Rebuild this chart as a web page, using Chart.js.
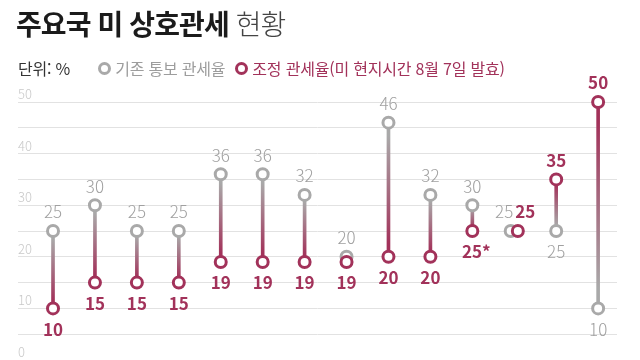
<!DOCTYPE html>
<html lang="ko">
<head>
<meta charset="utf-8">
<script src="https://cdn.jsdelivr.net/npm/chart.js@4"></script>
<style>
  body { margin: 0; background: #fff; font-family: "Noto Sans CJK KR", "Noto Sans", sans-serif; }
  .wrap { position: relative; width: 640px; height: 360px; overflow: hidden; }
  canvas { position: absolute; left: 0; top: 0; }
  .title { position: absolute; left: 16px; top: 3px; font-size: 28px; font-weight: 700; color: #1b1b1b; letter-spacing: -0.9px; white-space: nowrap; }
  .title span { font-weight: 300; color: #444; }
  .legend { position: absolute; left: 18px; top: 56px; font-size: 16px; color: #333; display: flex; align-items: center; letter-spacing: -0.2px; white-space: nowrap; }
  .legend .ring { display: inline-block; width: 7px; height: 7px; border-radius: 50%; border: 3px solid; margin-right: 4px; }
  .legend .old { color: #9d9d9d; margin-left: 28px; }
  .legend .old .ring { border-color: #a9a9a9; }
  .legend .new { color: #a2325a; margin-left: 10px; }
  .legend .new .ring { border-color: #a2325a; }
</style>
</head>
<body>
<div class="wrap">
  <canvas id="tariffChart" width="640" height="360"></canvas>
  <div class="title">주요국 미 상호관세 <span>현황</span></div>
  <div class="legend">
    <span>단위: %</span>
    <span class="old"><span class="ring"></span>기존 통보 관세율</span>
    <span class="new"><span class="ring"></span>조정 관세율(미 현지시간 8월 7일 발효)</span>
  </div>
</div>
<script>
// country slots, left to right (names are not shown in the graphic)
const categories = [1, 2, 3, 4, 5, 6, 7, 8, 9, 10, 11, 12, 13, 14];
const oldRates = [25, 30, 25, 25, 36, 36, 32, 20, 46, 32, 30, 25, 25, 10];
const newRates = [10, 15, 15, 15, 19, 19, 19, 19, 20, 20, 25, 25, 35, 50];
const newNotes = ['', '', '', '', '', '', '', '', '', '', '*', '', '', ''];
const yTicks = [0, 10, 20, 30, 40, 50];

const GRAY = '#a9a9a9';
const RED = '#a2325a';
const FONT = '"Noto Sans CJK KR", "Noto Sans", sans-serif';

// equal values sit side by side
const nudge = (i) => (oldRates[i] === newRates[i] ? 0.085 : 0);

// y tick labels sit above their grid line, at the left edge
const yLabels = {
    id: 'yLabels',
    beforeDatasetsDraw(chart) {
        const ctx = chart.ctx;
        const y = chart.scales.y;
        ctx.save();
        ctx.font = '300 13px ' + FONT;
        ctx.fillStyle = '#c9c9c9';
        ctx.textAlign = 'left';
        ctx.textBaseline = 'middle';
        yTicks.forEach((t) => ctx.fillText(String(t), chart.chartArea.left, y.getPixelForValue(t) - 8));
        ctx.restore();
    }
};

const valueLabels = {
    id: 'valueLabels',
    afterDatasetsDraw(chart) {
        const ctx = chart.ctx;
        const oldMeta = chart.getDatasetMeta(1);
        const newMeta = chart.getDatasetMeta(2);
        ctx.save();
        ctx.textBaseline = 'middle';
        categories.forEach((c, i) => {
            const o = oldMeta.data[i];
            const n = newMeta.data[i];
            const oldTxt = String(oldRates[i]);
            const newTxt = newRates[i] + newNotes[i];
            ctx.font = '300 17px ' + FONT;
            ctx.fillStyle = '#a0a0a0';
            if (oldRates[i] === newRates[i]) {
                const mid = (o.x + n.x) / 2;
                ctx.textAlign = 'right';
                ctx.fillText(oldTxt, mid - 1, o.y - 19);
                ctx.font = '700 17px ' + FONT;
                ctx.fillStyle = RED;
                ctx.textAlign = 'left';
                ctx.fillText(newTxt, mid + 1, n.y - 19);
                return;
            }
            const oldUp = oldRates[i] > newRates[i];
            ctx.textAlign = 'center';
            ctx.fillText(oldTxt, o.x, oldUp ? o.y - 19 : o.y + 21);
            ctx.font = '700 17px ' + FONT;
            ctx.fillStyle = RED;
            ctx.fillText(newTxt, n.x + (newNotes[i] ? 4 : 0), oldUp ? n.y + 21 : n.y - 19);
        });
        ctx.restore();
    }
};

const canvas = document.getElementById('tariffChart');
new Chart(canvas.getContext('2d'), {
    type: 'bar',
    data: {
        datasets: [
            {
                // connector between the two rates
                type: 'bar',
                order: 3,
                data: categories.map((c, i) => ({ x: c, y: [oldRates[i], newRates[i]] })),
                barThickness: 3,
                backgroundColor: (context) => {
                    const chart = context.chart;
                    const i = context.dataIndex;
                    if (!chart.chartArea || i === undefined) return GRAY;
                    const y = chart.scales.y;
                    const g = chart.ctx.createLinearGradient(0, y.getPixelForValue(oldRates[i]), 0, y.getPixelForValue(newRates[i]) + 0.01);
                    g.addColorStop(0.1, GRAY);
                    g.addColorStop(0.9, RED);
                    return g;
                },
            },
            {
                type: 'line',
                order: 2,
                showLine: false,
                clip: false,
                data: categories.map((c, i) => ({ x: c - nudge(i), y: oldRates[i] })),
                pointRadius: 5.5,
                pointBorderWidth: 3,
                pointBorderColor: GRAY,
                pointBackgroundColor: '#fff',
            },
            {
                type: 'line',
                order: 1,
                showLine: false,
                clip: false,
                data: categories.map((c, i) => ({ x: c + nudge(i), y: newRates[i] })),
                pointRadius: 5.5,
                pointBorderWidth: 3,
                pointBorderColor: RED,
                pointBackgroundColor: '#fff',
            },
        ],
    },
    options: {
        responsive: false,
        animation: false,
        layout: { autoPadding: false, padding: { top: 102, left: 18, right: 23, bottom: 0 } },
        plugins: { legend: { display: false }, tooltip: { enabled: false } },
        scales: {
            x: { type: 'linear', display: false, offset: false, min: 0.165, max: 14.45 },
            y: {
                min: 0,
                max: 50,
                border: { display: false },
                grid: { color: '#e2e2e2', lineWidth: 1, drawTicks: false },
                ticks: { stepSize: 5, display: false },
            },
        },
    },
    plugins: [yLabels, valueLabels],
});
</script>
</body>
</html>
